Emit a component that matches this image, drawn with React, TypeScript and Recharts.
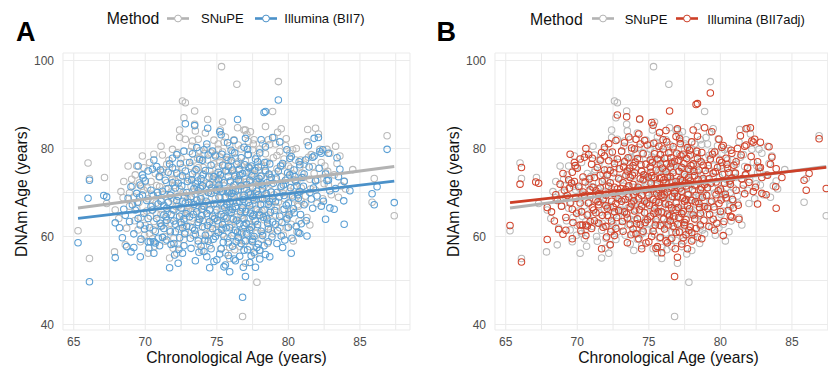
import React from 'react';
import { ScatterChart, Scatter, XAxis, YAxis, CartesianGrid } from 'recharts';

// Chronological age vs DNAm age
const snupePoints: number[][] = [
  [65.3,61.3],[66.0,76.7],[66.1,73.2],[66.1,55.0],[67.15,73.4],[67.9,66.0],[67.85,56.5],[68.8,76.0],[68.6,58.1],[68.3,70.2],[68.9,66.9],[67.3,67.5],[68.5,72.5],
  [69.8,78.3],[70.6,78.7],[69.65,58.8],[70.2,56.2],[69.3,74.0],[69.6,72.2],[69.9,70.5],[70.2,68.6],[70.5,67.0],[70.8,65.1],[69.4,66.4],[69.7,64.3],[70.0,62.5],[70.3,60.7],[70.6,63.4],[70.9,69.3],[69.2,69.0],[70.4,72.5],[70.7,74.3],[69.9,75.6],[70.1,65.8],[69.5,61.5],[70.8,71.6],[70.3,76.8],[69.1,71.5],[70.5,59.5],
  [72.4,82.5],[72.8,82.1],[72.8,90.4],[72.6,90.8],[72.7,87.0],[71.7,55.1],[72.2,56.2],[71.2,78.5],[71.5,76.4],[71.8,74.2],[72.1,72.6],[72.4,70.8],[72.7,69.2],[71.0,71.3],[71.3,69.6],[71.6,67.8],[71.9,66.1],[72.2,64.4],[72.5,62.7],[72.8,61.0],[71.1,65.0],[71.4,63.1],[71.7,61.4],[72.0,59.6],[72.3,58.2],[72.6,75.6],[72.9,73.4],[71.2,74.6],[71.9,79.8],[72.5,77.7],[71.5,72.2],[72.0,68.3],[72.9,65.6],[71.8,70.1],[72.3,66.9],[71.4,58.9],[72.7,59.3],[72.1,75.3],
  [73.45,88.5],[74.36,86.6],[73.3,81.7],[73.7,82.1],[74.8,81.9],[73.1,79.3],[73.4,77.4],[73.7,75.6],[74.0,73.8],[74.3,72.1],[74.6,70.4],[74.9,68.6],[73.2,71.4],[73.5,69.6],[73.8,67.8],[74.1,66.2],[74.4,64.5],[74.7,62.9],[73.0,66.0],[73.3,64.2],[73.6,62.6],[73.9,60.8],[74.2,59.4],[74.5,57.9],[74.8,76.5],[74.1,78.8],[73.6,73.6],[74.5,75.0],[73.9,71.2],[74.7,73.1],[73.2,75.9],[74.2,69.0],[73.4,67.2],[74.9,65.4],[74.0,63.7],[73.7,58.3],[74.6,60.9],[74.3,80.3],[73.5,84.0],[74.8,71.7],[73.1,62.3],[74.4,67.6],[73.8,77.9],[74.9,78.6],[73.3,70.3],
  [75.33,98.6],[76.4,94.6],[75.25,84.2],[76.9,84.2],[75.9,55.0],[75.3,57.2],[75.9,57.5],[75.1,81.0],[75.4,79.2],[75.7,77.5],[76.0,75.7],[76.3,74.0],[76.6,72.4],[76.9,70.7],[75.2,73.2],[75.5,71.5],[75.8,69.8],[76.1,68.0],[76.4,66.4],[76.7,64.7],[75.0,67.5],[75.3,65.8],[75.6,64.1],[75.9,62.4],[76.2,60.8],[76.5,59.2],[76.8,61.8],[75.1,62.9],[75.4,60.5],[76.7,79.9],[76.2,82.0],[75.6,82.6],[76.5,77.0],[75.8,74.7],[76.1,71.2],[75.3,70.1],[76.8,68.9],[75.7,67.1],[76.3,63.4],[75.5,76.3],[76.6,75.4],[75.2,78.1],[76.0,65.4],[76.9,73.7],[75.9,80.6],[76.4,69.5],[75.1,75.9],[76.6,57.7],
  [77.0,84.2],[77.1,83.2],[78.9,88.4],[79.0,82.5],[76.8,41.8],[77.8,49.6],[77.0,53.9],[77.3,57.7],[77.2,81.6],[77.5,79.7],[77.8,78.1],[78.1,76.3],[78.4,74.6],[78.7,72.9],[77.0,77.1],[77.3,75.4],[77.6,73.6],[77.9,71.9],[78.2,70.2],[78.5,68.5],[78.8,66.8],[77.1,70.6],[77.4,68.9],[77.7,67.2],[78.0,65.5],[78.3,63.8],[78.6,62.2],[78.9,60.6],[77.2,64.1],[77.5,62.4],[77.8,60.8],[78.1,59.4],[78.4,78.8],[78.7,80.9],[77.6,82.0],[78.2,81.0],[77.9,75.0],[78.5,76.9],[77.3,72.3],[78.8,70.1],[77.7,69.7],[78.3,67.4],[77.4,66.0],[78.6,64.9],[77.1,61.0],[78.0,56.8],
  [79.3,95.2],[79.25,83.7],[80.1,78.9],[80.3,79.7],[80.6,61.1],[79.1,81.0],[79.4,79.3],[79.7,77.6],[80.0,76.0],[80.3,74.2],[80.6,72.6],[80.9,71.0],[79.2,75.4],[79.5,73.6],[79.8,71.9],[80.1,70.3],[80.4,68.6],[80.7,66.9],[79.0,69.5],[79.3,67.8],[79.6,66.1],[79.9,64.4],[80.2,62.8],[79.4,62.0],[80.8,75.8],[79.8,80.6],[80.5,77.4],[79.6,69.9],[80.2,65.8],[79.1,64.9],[80.9,68.0],
  [81.35,84.3],[81.9,84.6],[81.3,81.5],[82.7,79.8],[82.9,78.9],[81.8,74.3],[82.1,83.3],[82.6,74.5],[82.8,71.7],[81.3,64.3],[81.1,76.4],[81.5,73.0],[81.9,70.5],[82.3,76.8],[81.2,69.2],[82.0,67.5],[81.6,78.6],[82.5,72.0],
  [83.6,78.3],[83.4,76.6],[83.9,72.6],[84.0,70.8],[86.0,73.2],[86.9,82.9],[85.85,67.8],[87.4,64.7],[83.2,74.0],[84.5,75.2],[83.5,68.9],
  [68.15,64.1],[68.45,68.8],[68.7,61.9],[69.05,73.0],[69.25,63.6],[69.55,67.7],[69.75,71.4],[69.95,60.3],[68.9,69.9],[69.4,76.0],
  [70.15,71.0],[70.35,64.6],[70.45,69.6],[70.65,57.8],[70.75,67.6],[70.95,73.6],[71.05,62.3],[71.15,68.2],[71.25,75.2],[71.35,60.0],[71.45,70.8],[71.55,65.4],[71.65,77.3],[71.75,63.0],[71.85,68.7],[71.95,57.3],[72.05,71.6],[72.15,66.8],[72.25,79.0],[72.35,61.7],[72.45,73.5],[72.55,65.0],[72.65,70.0],[72.75,63.4],[72.85,76.8],[72.95,68.4],[71.1,80.5],[72.4,84.2],[70.55,61.5],[71.9,73.0],
  [73.05,72.9],[73.15,65.7],[73.25,80.5],[73.35,60.3],[73.45,74.8],[73.55,66.5],[73.6,71.2],[73.7,63.9],[73.8,79.5],[73.85,69.0],[73.95,56.8],[74.05,75.7],[74.15,62.0],[74.25,70.6],[74.35,77.4],[74.45,60.5],[74.55,67.2],[74.65,73.9],[74.75,63.8],[74.85,70.0],[74.95,61.4],[73.45,85.5],[74.2,83.5],[74.6,79.0],[73.2,68.5],[74.0,67.0],[73.65,77.8],[74.9,74.2],[73.9,64.8],[74.45,72.0],
  [75.05,70.7],[75.15,64.6],[75.2,76.9],[75.3,61.9],[75.35,73.0],[75.45,67.0],[75.5,81.4],[75.55,63.3],[75.65,70.2],[75.75,59.6],[75.8,77.3],[75.85,65.4],[75.95,72.2],[76.05,62.8],[76.1,79.1],[76.2,67.6],[76.25,57.0],[76.35,73.1],[76.4,64.4],[76.45,84.7],[76.55,69.0],[76.6,61.0],[76.7,76.2],[76.75,66.0],[76.85,71.7],[76.9,59.1],[75.25,68.8],[76.05,74.9],[75.6,56.3],[76.5,80.8],[75.4,86.0],[76.8,64.0],[75.9,69.3],[76.3,77.9],[75.0,72.4],[76.65,72.7],[75.7,75.0],[76.15,70.5],[75.1,79.8],[76.95,67.9],
  [77.05,72.4],[77.1,66.2],[77.15,78.6],[77.25,62.8],[77.3,70.1],[77.4,74.2],[77.45,59.0],[77.5,67.4],[77.55,81.0],[77.6,64.0],[77.7,75.5],[77.75,70.8],[77.85,62.0],[77.9,68.4],[78.0,79.9],[78.05,73.8],[78.15,65.8],[78.2,60.6],[78.3,71.5],[78.35,76.0],[78.45,64.7],[78.5,69.3],[78.6,82.0],[78.65,74.0],[78.75,61.5],[78.85,67.9],[78.95,77.9],[77.35,83.8],[78.4,85.0],[77.65,56.0],[78.1,68.8],[77.2,75.9],[78.8,71.9],[77.95,65.0],[78.55,58.4],[77.8,73.0],
  [79.05,74.3],[79.15,66.8],[79.2,78.4],[79.35,63.5],[79.45,71.0],[79.55,76.0],[79.65,60.3],[79.75,68.6],[79.85,82.2],[79.95,73.4],[80.05,65.0],[80.15,75.5],[80.25,69.4],[80.35,59.0],[80.45,72.9],[80.55,80.0],[80.65,67.2],[80.75,63.5],[80.85,77.4],[80.95,74.4],[79.5,84.5],[80.4,71.0],[79.9,62.0],[80.7,70.0],
  [81.05,73.4],[81.2,67.6],[81.4,78.0],[81.55,70.8],[81.7,75.9],[82.05,72.9],[82.2,79.8],[82.4,68.6],[82.55,76.0],[82.75,74.8],[83.0,69.5],[83.3,80.5],[81.5,62.6],[83.7,71.5],
];

const bii7Points: number[][] = [
  [65.3,58.6],[66.1,72.8],[66.1,49.7],[66.0,68.7],[67.1,69.3],[67.3,69.0],[67.9,63.1],[67.9,55.2],[68.7,57.7],[69.0,56.5],[68.8,68.7],[68.5,66.2],[68.9,63.4],
  [69.5,76.0],[69.8,74.0],[70.2,74.9],[70.5,75.3],[70.8,75.9],[70.6,77.4],[69.65,71.7],[69.8,69.4],[69.1,67.2],[69.3,66.0],[69.5,64.1],[69.65,62.6],[70.2,64.1],[70.5,66.0],[70.8,64.1],[69.2,57.5],[69.65,55.4],[70.2,58.8],[70.6,58.8],[70.6,56.2],[70.9,59.6],[70.35,58.8],[70.7,58.5],[70.1,68.2],[70.4,70.5],[70.9,67.4],[69.9,65.3],[70.3,62.0],[70.0,72.6],[69.4,69.8],
  [71.05,75.1],[71.05,63.0],[71.3,64.9],[71.5,66.4],[71.75,69.4],[72.1,71.0],[72.3,72.1],[72.45,76.6],[71.75,61.1],[72.1,61.1],[71.5,59.2],[71.7,52.9],[72.3,53.9],[72.8,85.6],[72.7,79.4],[71.2,70.3],[71.4,72.8],[71.6,74.6],[71.9,77.8],[72.2,68.2],[72.5,66.5],[72.7,64.0],[72.9,62.3],[71.1,68.0],[71.8,65.0],[72.0,63.5],[72.4,59.7],[72.6,56.2],[72.7,57.9],[71.3,61.8],[72.9,70.0],[72.6,73.8],[71.9,75.6],[72.2,78.6],[72.8,67.6],[71.6,67.8],[72.4,64.6],[72.0,58.4],
  [73.45,85.2],[74.36,84.6],[74.1,79.7],[74.4,78.5],[73.2,57.3],[73.9,57.8],[74.5,52.9],[75.0,54.7],[74.3,55.4],[73.1,76.8],[73.3,74.2],[73.5,72.0],[73.7,70.4],[73.9,68.6],[74.1,66.9],[74.3,65.2],[74.5,63.4],[74.7,61.8],[74.9,60.0],[73.2,69.1],[73.4,67.3],[73.6,65.6],[73.8,63.9],[74.0,62.2],[74.2,60.3],[74.4,58.9],[73.1,64.5],[73.3,62.0],[73.5,60.5],[73.7,59.0],[74.6,76.2],[74.8,73.6],[74.2,75.0],[73.8,77.5],[74.0,71.5],[74.6,69.8],[74.8,67.5],[74.5,71.8],[73.6,80.2],[74.9,78.3],[74.7,64.6],[73.9,73.2],[73.4,70.9],[74.3,81.0],[74.1,56.6],
  [75.2,83.8],[75.3,83.1],[76.45,86.6],[76.2,81.8],[75.9,52.0],[75.5,53.1],[75.6,53.5],[76.8,46.2],[76.3,54.5],[75.3,57.2],[75.8,58.6],[76.5,59.8],[76.9,56.9],[75.1,60.9],[75.4,62.7],[75.7,64.2],[76.0,65.5],[76.3,66.8],[76.6,68.0],[76.9,69.4],[75.2,70.8],[75.5,72.2],[75.8,73.7],[76.1,75.1],[76.4,76.4],[76.7,77.9],[75.0,66.0],[75.3,67.6],[75.6,69.0],[75.9,70.4],[76.2,71.7],[76.5,72.9],[76.8,74.3],[75.1,74.6],[75.4,76.2],[75.7,78.0],[76.0,79.6],[76.3,61.4],[76.6,62.9],[76.9,64.1],[75.5,60.0],[76.1,57.8],[76.7,58.4],[75.9,62.0],[76.4,63.7],[75.3,65.0],[76.8,66.5],[75.7,67.3],[76.2,69.1],[75.1,72.9],[76.5,70.6],[75.8,75.9],[76.0,77.3],[76.9,80.3],
  [77.0,82.3],[78.3,88.2],[78.4,88.4],[78.9,82.5],[77.0,50.9],[77.3,54.1],[78.0,54.9],[78.7,55.4],[77.5,59.4],[77.5,58.8],[78.0,56.9],[77.1,60.6],[77.4,62.1],[77.7,63.5],[78.0,64.8],[78.3,66.0],[78.6,67.3],[78.9,68.6],[77.2,69.9],[77.5,71.1],[77.8,72.4],[78.1,73.7],[78.4,75.0],[78.7,76.5],[77.0,65.7],[77.3,67.0],[77.6,68.3],[77.9,69.5],[78.2,70.8],[78.5,72.2],[78.8,73.4],[77.1,74.5],[77.4,76.0],[77.7,77.6],[78.0,79.0],[78.6,61.7],[78.2,60.2],[77.8,57.5],[78.9,63.3],[77.6,65.0],[78.5,64.0],[77.3,72.8],[78.8,70.1],[77.9,75.8],[77.2,78.6],[78.4,80.4],[78.6,58.8],
  [79.3,91.0],[79.9,79.7],[80.1,77.8],[80.8,76.3],[80.2,56.2],[80.7,60.9],[80.8,60.7],[80.7,68.7],[80.8,70.2],[79.1,62.8],[79.4,64.6],[79.7,66.2],[80.0,67.6],[80.3,69.0],[80.6,71.5],[79.2,70.0],[79.5,71.4],[79.8,72.8],[80.1,74.0],[80.4,75.1],[79.3,74.9],[79.6,76.6],[79.1,67.9],[79.9,64.0],[80.4,65.4],[79.5,60.1],[80.0,62.1],[79.2,58.4],[80.5,72.6],[79.7,69.3],
  [81.8,82.3],[82.1,82.5],[81.4,80.6],[82.2,79.3],[82.4,79.7],[82.3,78.9],[82.8,78.9],[81.7,78.0],[81.2,77.4],[81.1,74.2],[81.8,78.3],[82.6,74.2],[82.8,72.8],[81.9,72.6],[81.9,72.8],[82.7,72.7],[82.3,66.9],[82.9,66.5],[81.7,66.4],[81.1,67.2],[81.5,70.0],[82.0,69.2],
  [83.4,77.9],[83.6,75.3],[83.9,72.5],[83.87,68.1],[83.9,62.8],[86.9,79.8],[86.2,71.3],[85.85,69.7],[86.0,67.2],[87.4,67.7],[84.3,70.4],[83.3,70.9],
  [70.4,66.8],[70.7,61.2],[71.0,73.6],[71.2,59.8],[71.3,67.1],[71.5,63.7],[71.6,70.9],[71.8,58.2],[71.9,72.2],[72.0,66.0],[72.1,62.8],[72.2,74.4],[72.3,69.1],[72.35,57.1],[72.5,63.2],[72.55,71.5],[72.6,68.0],[72.75,60.6],[72.8,74.9],[72.85,65.2],[72.95,72.5],[71.45,64.5],[70.85,70.0],[71.15,62.4],[70.55,69.3],[71.7,76.5],[72.05,55.8],[70.25,57.4],[71.0,57.9],[72.6,62.0],
  [73.05,67.7],[73.15,59.6],[73.25,72.9],[73.35,65.0],[73.45,61.4],[73.55,75.2],[73.6,68.3],[73.7,63.2],[73.75,56.4],[73.85,70.9],[73.95,66.2],[74.05,74.1],[74.15,59.1],[74.25,68.0],[74.35,62.5],[74.45,73.5],[74.5,66.1],[74.6,57.2],[74.65,71.0],[74.75,59.4],[74.85,64.1],[74.95,70.5],[73.3,78.8],[74.0,77.3],[74.7,79.4],[73.5,54.5],[74.8,54.3],[73.95,64.7],[74.4,70.0],[73.65,72.6],
  [75.05,63.6],[75.15,68.9],[75.2,56.0],[75.25,74.0],[75.35,61.6],[75.4,70.3],[75.45,58.7],[75.55,66.6],[75.6,74.9],[75.65,62.0],[75.75,70.1],[75.8,55.7],[75.85,66.0],[75.95,72.6],[76.05,60.2],[76.05,69.8],[76.15,63.9],[76.2,54.9],[76.25,73.7],[76.35,58.8],[76.4,67.8],[76.45,61.0],[76.55,75.2],[76.6,55.5],[76.65,65.7],[76.7,71.5],[76.75,60.8],[76.85,68.4],[76.9,62.5],[76.95,76.3],[75.35,78.7],[76.25,79.0],[75.75,81.3],[76.85,53.0],[75.5,64.6],[76.3,70.3],[75.9,67.9],[76.6,73.9],[75.15,71.7],[76.1,66.2],
  [77.05,63.0],[77.1,71.8],[77.15,57.0],[77.2,67.8],[77.25,75.6],[77.3,61.5],[77.35,69.6],[77.4,55.6],[77.45,73.8],[77.5,64.6],[77.55,68.9],[77.6,60.0],[77.65,75.0],[77.7,53.0],[77.75,66.2],[77.8,70.3],[77.85,62.7],[77.9,58.3],[77.95,73.2],[78.05,67.3],[78.1,61.2],[78.15,71.9],[78.25,64.4],[78.3,57.9],[78.35,76.8],[78.45,69.8],[78.55,63.0],[78.65,74.2],[78.75,65.5],[78.85,59.9],[78.95,72.1],[77.15,79.8],[78.1,82.0],[77.6,56.4],[78.4,55.9],[77.35,65.3],[78.2,68.5],[77.85,77.0],[78.7,67.9],[77.0,59.0],
  [79.05,65.9],[79.15,73.3],[79.25,61.3],[79.35,69.0],[79.45,76.0],[79.55,63.2],[79.65,71.7],[79.75,59.2],[79.85,67.1],[79.95,74.5],[80.05,64.9],[80.15,71.1],[80.25,59.6],[80.35,66.3],[80.45,73.6],[80.55,62.3],[80.65,69.5],[80.75,77.0],[80.85,65.0],[80.95,73.4],[79.6,57.5],[80.2,78.2],[79.4,81.5],[80.9,62.9],
  [81.05,71.4],[81.25,63.6],[81.45,75.8],[81.6,68.5],[81.75,71.0],[82.15,75.5],[82.45,68.0],[82.6,63.9],[82.9,70.4],[83.2,66.2],[83.5,73.6],[81.3,60.1],
  [68.2,62.0],[68.6,64.8],[69.0,71.3],[69.2,60.6],[69.45,67.8],[69.7,59.4],[69.85,73.3],[69.95,61.7],[68.4,59.7],[69.6,68.9],
];

const bii7adjPoints: number[][] = [
  [65.3,62.5],[66.1,75.7],[66.1,54.2],[66.0,71.9],[67.1,72.4],[67.3,72.1],[67.9,66.6],[67.9,59.3],[68.7,61.6],[69.0,60.5],[68.8,71.9],[68.5,69.5],[68.9,66.9],
  [69.5,78.7],[69.8,76.8],[70.2,77.6],[70.5,78.0],[70.8,78.6],[70.6,80.0],[69.65,74.6],[69.8,72.5],[69.1,70.5],[69.3,69.3],[69.5,67.6],[69.65,66.2],[70.2,67.6],[70.5,69.3],[70.8,67.6],[69.2,61.4],[69.65,59.5],[70.2,62.6],[70.6,62.6],[70.6,60.2],[70.9,63.4],[70.35,62.6],[70.7,62.4],[70.1,71.4],[70.4,73.5],[70.9,70.6],[69.9,68.7],[70.3,65.6],[70.0,75.5],[69.4,72.9],
  [71.05,77.8],[71.05,66.6],[71.3,68.3],[71.5,69.7],[71.75,72.5],[72.1,74.0],[72.3,75.0],[72.45,79.2],[71.75,64.8],[72.1,64.8],[71.5,63.0],[71.7,57.2],[72.3,58.1],[72.8,87.6],[72.7,81.8],[71.2,73.4],[71.4,75.7],[71.6,77.4],[71.9,80.3],[72.2,71.4],[72.5,69.8],[72.7,67.5],[72.9,65.9],[71.1,71.2],[71.8,68.4],[72.0,67.0],[72.4,63.5],[72.6,60.2],[72.7,61.8],[71.3,65.4],[72.9,73.1],[72.6,76.6],[71.9,78.3],[72.2,81.1],[72.8,70.8],[71.6,71.0],[72.4,68.0],[72.0,62.3],
  [73.45,87.2],[74.36,86.7],[74.1,82.1],[74.4,81.0],[73.2,61.2],[73.9,61.7],[74.5,57.2],[75.0,58.8],[74.3,59.5],[73.1,79.4],[73.3,77.0],[73.5,74.9],[73.7,73.4],[73.9,71.8],[74.1,70.2],[74.3,68.6],[74.5,66.9],[74.7,65.4],[74.9,63.8],[73.2,72.2],[73.4,70.6],[73.6,69.0],[73.8,67.4],[74.0,65.8],[74.2,64.0],[74.4,62.7],[73.1,68.0],[73.3,65.6],[73.5,64.2],[73.7,62.8],[74.6,78.8],[74.8,76.4],[74.2,77.7],[73.8,80.1],[74.0,74.5],[74.6,72.9],[74.8,70.7],[74.5,74.8],[73.6,82.6],[74.9,80.8],[74.7,68.0],[73.9,76.1],[73.4,73.9],[74.3,83.3],[74.1,60.6],
  [75.2,85.9],[75.3,85.3],[76.45,88.5],[76.2,84.1],[75.9,56.3],[75.5,57.3],[75.6,57.7],[76.8,50.9],[76.3,58.6],[75.3,61.2],[75.8,62.5],[76.5,63.6],[76.9,60.9],[75.1,64.6],[75.4,66.3],[75.7,67.7],[76.0,68.9],[76.3,70.1],[76.6,71.2],[76.9,72.5],[75.2,73.8],[75.5,75.1],[75.8,76.5],[76.1,77.8],[76.4,79.0],[76.7,80.4],[75.0,69.4],[75.3,70.8],[75.6,72.1],[75.9,73.4],[76.2,74.7],[76.5,75.8],[76.8,77.1],[75.1,77.4],[75.4,78.8],[75.7,80.5],[76.0,82.0],[76.3,65.1],[76.6,66.5],[76.9,67.6],[75.5,63.8],[76.1,61.7],[76.7,62.3],[75.9,65.6],[76.4,67.2],[75.3,68.4],[76.8,69.8],[75.7,70.6],[76.2,72.2],[75.1,75.8],[76.5,73.6],[75.8,78.6],[76.0,79.9],[76.9,82.7],
  [77.0,84.5],[78.3,90.0],[78.4,90.2],[78.9,84.7],[77.0,55.3],[77.3,58.3],[78.0,59.0],[78.7,59.5],[77.5,63.2],[77.5,62.6],[78.0,60.9],[77.1,64.3],[77.4,65.7],[77.7,67.0],[78.0,68.2],[78.3,69.3],[78.6,70.6],[78.9,71.8],[77.2,73.0],[77.5,74.1],[77.8,75.3],[78.1,76.5],[78.4,77.7],[78.7,79.1],[77.0,69.1],[77.3,70.3],[77.6,71.5],[77.9,72.6],[78.2,73.8],[78.5,75.1],[78.8,76.2],[77.1,77.3],[77.4,78.7],[77.7,80.2],[78.0,81.5],[78.6,65.3],[78.2,64.0],[77.8,61.4],[78.9,66.8],[77.6,68.4],[78.5,67.5],[77.3,75.7],[78.8,73.2],[77.9,78.5],[77.2,81.1],[78.4,82.8],[78.6,62.6],
  [79.3,92.6],[79.9,82.1],[80.1,80.3],[80.8,78.9],[80.2,60.2],[80.7,64.6],[80.8,64.4],[80.7,71.9],[80.8,73.3],[79.1,66.4],[79.4,68.0],[79.7,69.5],[80.0,70.8],[80.3,72.1],[80.6,74.5],[79.2,73.1],[79.5,74.4],[79.8,75.7],[80.1,76.8],[80.4,77.8],[79.3,77.6],[79.6,79.2],[79.1,71.1],[79.9,67.5],[80.4,68.8],[79.5,63.9],[80.0,65.7],[79.2,62.3],[80.5,75.5],[79.7,72.4],
  [81.8,84.5],[82.1,84.7],[81.4,82.9],[82.2,81.7],[82.4,82.1],[82.3,81.4],[82.8,81.4],[81.7,80.5],[81.2,80.0],[81.1,77.0],[81.8,80.8],[82.6,77.0],[82.8,75.7],[81.9,75.5],[81.9,75.7],[82.7,75.6],[82.3,70.2],[82.9,69.8],[81.7,69.7],[81.1,70.5],[81.5,73.1],[82.0,72.3],
  [83.4,80.4],[83.6,78.0],[83.9,75.4],[83.87,71.3],[83.9,66.4],[86.9,82.2],[86.2,74.3],[85.85,72.8],[86.0,70.5],[87.4,70.9],[84.3,73.4],[83.3,73.9],
  [70.4,70.1],[70.7,64.9],[71.0,76.4],[71.2,63.6],[71.3,70.4],[71.5,67.2],[71.6,73.9],[71.8,62.1],[71.9,75.1],[72.0,69.4],[72.1,66.4],[72.2,77.2],[72.3,72.2],[72.35,61.1],[72.5,66.7],[72.55,74.5],[72.6,71.2],[72.75,64.3],[72.8,77.6],[72.85,68.6],[72.95,75.4],[71.45,67.9],[70.85,73.1],[71.15,66.0],[70.55,72.4],[71.7,79.1],[72.05,59.9],[70.25,61.3],[71.0,61.8],[72.6,65.6],
  [73.05,70.9],[73.15,63.4],[73.25,75.8],[73.35,68.4],[73.45,65.1],[73.55,77.9],[73.6,71.5],[73.7,66.7],[73.75,60.4],[73.85,73.9],[73.95,69.5],[74.05,76.9],[74.15,62.9],[74.25,71.2],[74.35,66.1],[74.45,76.3],[74.5,69.4],[74.6,61.2],[74.65,74.0],[74.75,63.2],[74.85,67.6],[74.95,73.5],[73.3,81.3],[74.0,79.9],[74.7,81.8],[73.5,58.6],[74.8,58.5],[73.95,68.1],[74.4,73.1],[73.65,75.5],
  [75.05,67.1],[75.15,72.1],[75.2,60.0],[75.25,76.8],[75.35,65.3],[75.4,73.4],[75.45,62.6],[75.55,69.9],[75.6,77.6],[75.65,65.6],[75.75,73.2],[75.8,59.8],[75.85,69.4],[75.95,75.5],[76.05,64.0],[76.05,72.9],[76.15,67.4],[76.2,59.0],[76.25,76.5],[76.35,62.6],[76.4,71.0],[76.45,64.7],[76.55,77.9],[76.6,59.6],[76.65,69.1],[76.7,74.5],[76.75,64.5],[76.85,71.6],[76.9,66.1],[76.95,78.9],[75.35,81.2],[76.25,81.5],[75.75,83.6],[76.85,57.2],[75.5,68.0],[76.3,73.4],[75.9,71.1],[76.6,76.7],[75.15,74.6],[76.1,69.5],
  [77.05,66.6],[77.1,74.8],[77.15,61.0],[77.2,71.0],[77.25,78.3],[77.3,65.2],[77.35,72.7],[77.4,59.7],[77.45,76.6],[77.5,68.0],[77.55,72.1],[77.6,63.8],[77.65,77.7],[77.7,57.2],[77.75,69.5],[77.8,73.4],[77.85,66.3],[77.9,62.2],[77.95,76.1],[78.05,70.6],[78.1,64.9],[78.15,74.8],[78.25,67.9],[78.3,61.8],[78.35,79.4],[78.45,72.9],[78.55,66.6],[78.65,77.0],[78.75,68.9],[78.85,63.7],[78.95,75.0],[77.15,82.2],[78.1,84.2],[77.6,60.4],[78.4,59.9],[77.35,68.7],[78.2,71.7],[77.85,79.6],[78.7,71.1],[77.0,62.8],
  [79.05,69.3],[79.15,76.1],[79.25,65.0],[79.35,72.1],[79.45,78.7],[79.55,66.7],[79.65,74.7],[79.75,63.0],[79.85,70.4],[79.95,77.3],[80.05,68.3],[80.15,74.1],[80.25,63.4],[80.35,69.6],[80.45,76.4],[80.55,65.9],[80.65,72.6],[80.75,79.6],[80.85,68.4],[80.95,76.2],[79.6,61.4],[80.2,80.7],[79.4,83.8],[80.9,66.5],
  [81.05,74.4],[81.25,67.1],[81.45,78.5],[81.6,71.7],[81.75,74.0],[82.15,78.2],[82.45,71.2],[82.6,67.4],[82.9,73.4],[83.2,69.5],[83.5,76.4],[81.3,63.9],
  [68.2,65.6],[68.6,68.2],[69.0,74.3],[69.2,64.3],[69.45,71.0],[69.7,63.2],[69.85,76.1],[69.95,65.3],[68.4,63.5],[69.6,72.1],
];

// Linear fit end points
const snupeFit: number[][] = [[65.3, 66.5], [87.4, 75.9]];
const bii7Fit: number[][] = [[65.3, 64.1], [87.4, 72.6]];
const bii7adjFit: number[][] = [[65.3, 67.7], [87.4, 75.7]];

const xTicks = [65, 67.5, 70, 72.5, 75, 77.5, 80, 82.5, 85, 87.5];
const xTickLabels = [65, 70, 75, 80, 85];
const yTicks = [40, 50, 60, 70, 80, 90, 100];
const yTickLabels = [40, 60, 80, 100];
const xDomain: [number, number] = [64.25, 88.5];
const yDomain: [number, number] = [38.75, 101.7];

const seriesNames = ['SNuPE', 'Illumina (BII7)', 'Illumina (BII7adj)'];
const legendTitle = 'Method';
const panelLetters = ['A', 'B'];
const xTitle = 'Chronological Age (years)';
const yTitle = 'DNAm Age (years)';

const GREY = '#b9b9b9';
const GREY_LINE = '#b3b3b3';
const BLUE = '#5a9fd4';
const BLUE_LINE = '#4b91c9';
const RED = '#d2452d';
const RED_LINE = '#cd3f27';

const FONT = '"Liberation Sans", Arial, Helvetica, sans-serif';

const toXY = (arr: number[][]) => arr.map(([x, y]) => ({ x, y }));

const ring = (color: string) => (props: any) => (
  <circle cx={props.cx} cy={props.cy} r={3.25} fill="none" stroke={color} strokeWidth={1.05} />
);
const noDot = () => <g />;

function Panel({ left, points, fit, color, lineColor }: { left: number; points: number[][]; fit: number[][]; color: string; lineColor: string }) {
  return (
    <div style={{ position: 'absolute', left, top: 0 }}>
      <ScatterChart width={414} height={369} margin={{ top: 53, right: 4, bottom: 0, left: 0 }}>
        <CartesianGrid stroke="#ebebeb" strokeWidth={1.05} />
        <XAxis
          type="number"
          dataKey="x"
          domain={xDomain}
          ticks={xTicks}
          interval={0}
          allowDataOverflow
          axisLine={false}
          tickLine={false}
          tickSize={0}
          tickMargin={7}
          height={39}
          tick={{ fill: '#4d4d4d', fontSize: 12 }}
          tickFormatter={(v: number) => (xTickLabels.includes(v) ? String(v) : '')}
          label={{ value: xTitle, position: 'insideBottom', offset: 6, fill: '#111', fontSize: 15.7 }}
        />
        <YAxis
          type="number"
          dataKey="y"
          domain={yDomain}
          ticks={yTicks}
          interval={0}
          allowDataOverflow
          axisLine={false}
          tickLine={false}
          tickSize={0}
          tickMargin={9}
          width={63}
          tick={{ fill: '#4d4d4d', fontSize: 12 }}
          tickFormatter={(v: number) => (yTickLabels.includes(v) ? String(v) : '')}
          label={{ value: yTitle, angle: -90, position: 'insideLeft', offset: 21, fill: '#111', fontSize: 15.7, style: { textAnchor: 'middle' } }}
        />
        <Scatter data={toXY(snupePoints)} shape={ring(GREY)} isAnimationActive={false} />
        <Scatter data={toXY(points)} shape={ring(color)} isAnimationActive={false} />
        <Scatter data={toXY(snupeFit)} shape={noDot} line={{ stroke: GREY_LINE, strokeWidth: 3 }} isAnimationActive={false} />
        <Scatter data={toXY(fit)} shape={noDot} line={{ stroke: lineColor, strokeWidth: 2.8 }} isAnimationActive={false} />
      </ScatterChart>
    </div>
  );
}

function LegendKey({ cx, color }: { cx: number; color: string }) {
  return (
    <g>
      <line x1={cx - 11} x2={cx + 11} y1={18.5} y2={18.5} stroke={color} strokeWidth={2.6} />
      <circle cx={cx} cy={18.5} r={3.4} fill="#fff" stroke={color} strokeWidth={1} />
    </g>
  );
}

export default function App() {
  return (
    <div style={{ position: 'absolute', left: 0, top: 0, width: 828, height: 369, overflow: 'hidden', background: '#fff', fontFamily: FONT }}>
      <Panel left={0} points={bii7Points} fit={bii7Fit} color={BLUE} lineColor={BLUE_LINE} />
      <Panel left={432} points={bii7adjPoints} fit={bii7adjFit} color={RED} lineColor={RED_LINE} />
      <svg width={828} height={369} style={{ position: 'absolute', left: 0, top: 0, pointerEvents: 'none' }} fontFamily={FONT}>
        <text x={16} y={41} fontSize={27} fontWeight="bold" fill="#000">{panelLetters[0]}</text>
        <text x={436.5} y={40.5} fontSize={27} fontWeight="bold" fill="#000">{panelLetters[1]}</text>

        <text x={106.7} y={24} fontSize={15.8} fill="#111">{legendTitle}</text>
        <LegendKey cx={178} color={GREY_LINE} />
        <text x={201} y={23} fontSize={13} fill="#111">{seriesNames[0]}</text>
        <LegendKey cx={266} color={BLUE_LINE} />
        <text x={284.3} y={23} fontSize={13} fill="#111">{seriesNames[1]}</text>

        <text x={530} y={24.5} fontSize={15.8} fill="#111">{legendTitle}</text>
        <LegendKey cx={603} color={GREY_LINE} />
        <text x={624.7} y={23.5} fontSize={13} fill="#111">{seriesNames[0]}</text>
        <LegendKey cx={687} color={RED_LINE} />
        <text x={707.3} y={23.5} fontSize={13} fill="#111">{seriesNames[2]}</text>
      </svg>
    </div>
  );
}
